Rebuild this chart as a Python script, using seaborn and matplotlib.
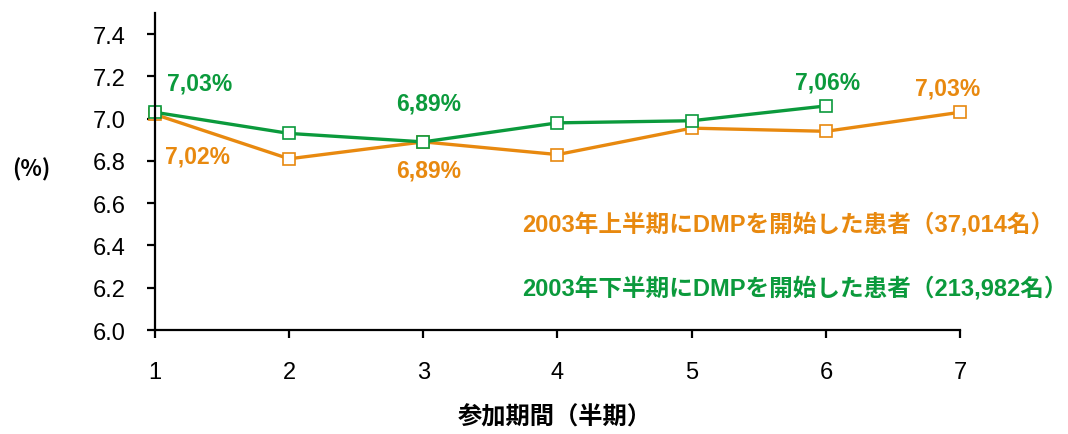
import pandas as pd
import matplotlib.pyplot as plt
import seaborn as sns

# data
periods_first = [1, 2, 3, 4, 5, 6, 7]
rate_first = [7.02, 6.81, 6.89, 6.83, 6.955, 6.94, 7.03]
periods_second = [1, 2, 3, 4, 5, 6]
rate_second = [7.03, 6.93, 6.89, 6.98, 6.99, 7.06]
label_first = "2003年上半期にDMPを開始した患者（37,014名）"
label_second = "2003年下半期にDMPを開始した患者（213,982名）"
y_ticks = [6.0, 6.2, 6.4, 6.6, 6.8, 7.0, 7.2, 7.4]

orange = "#E8890F"
green = "#0B9A3C"

df = pd.concat([
    pd.DataFrame({"period": periods_first, "rate": rate_first, "group": label_first}),
    pd.DataFrame({"period": periods_second, "rate": rate_second, "group": label_second}),
])

sns.set_style("white")
plt.rcParams["font.family"] = ["Liberation Sans", "Noto Sans CJK JP"]
plt.rcParams["text.color"] = "black"
plt.rcParams["xtick.color"] = "black"
plt.rcParams["ytick.color"] = "black"

fig = plt.figure(figsize=(10.68, 4.35), dpi=100)
ax = fig.add_axes([0.145, 0.239, 0.754, 0.729])

sns.lineplot(data=df, x="period", y="rate", hue="group",
             palette={label_first: orange, label_second: green},
             marker="s", markersize=9, linewidth=2.4, legend=False, ax=ax)
# open square markers, not clipped at the axis ends
for line in ax.lines:
    c = line.get_color()
    line.set_markerfacecolor("white")
    line.set_markeredgecolor(c)
    line.set_markeredgewidth(1.2)
    line.set_clip_on(False)

ax.set_xlim(1, 7)
ax.set_ylim(6.0, 7.5)
ax.set_xticks(periods_first)
ax.set_yticks(y_ticks)
ax.set_yticklabels([f"{v:.1f}" for v in y_ticks])
ax.tick_params(axis="both", labelsize=17, direction="out", length=6, width=1.6,
               colors="black", left=True, bottom=True)
ax.tick_params(axis="y", pad=15)
ax.tick_params(axis="x", pad=16)
for s in ["top", "right"]:
    ax.spines[s].set_visible(False)
for s in ["left", "bottom"]:
    ax.spines[s].set_color("black")
    ax.spines[s].set_linewidth(1.6)
ax.set_xlabel("")
ax.set_ylabel("")

# value labels
def lab(x, y, dx, dy, c):
    ax.annotate(f"{y:.2f}%".replace(".", ","), (x, y), xytext=(dx, dy),
                textcoords="offset pixels", ha="center", va="center",
                color=c, fontsize=16.5, fontweight="bold")

lab(periods_second[0], rate_second[0], 45, 29, green)
lab(periods_second[2], rate_second[2], 5, 39, green)
lab(periods_second[5], rate_second[5], 2, 24, green)
lab(periods_first[0], rate_first[0], 43, -42, orange)
lab(periods_first[2], rate_first[2], 5, -28, orange)
lab(periods_first[6], rate_first[6], -13, 24, orange)

fig.text(522 / 1068, 1 - 225 / 435, label_first, color=orange, fontsize=17,
         fontweight="bold", ha="left", va="center")
fig.text(522 / 1068, 1 - 289 / 435, label_second, color=green, fontsize=17,
         fontweight="bold", ha="left", va="center")
fig.text(31 / 1068, 1 - 170 / 435, "(%)", fontsize=16, fontweight="bold",
         ha="center", va="center", family=["Noto Sans CJK JP"])
fig.text(555 / 1068, 1 - 418 / 435, "参加期間（半期）", fontsize=17.5,
         fontweight="bold", ha="center", va="center")

fig.savefig("out.png", dpi=100)
